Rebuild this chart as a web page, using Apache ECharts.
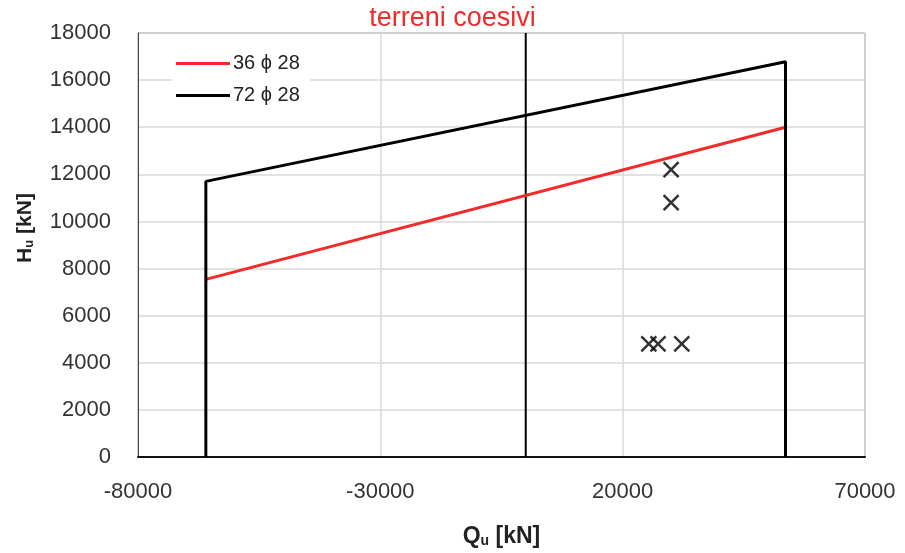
<!DOCTYPE html>
<html>
<head>
<meta charset="utf-8">
<script src="https://cdn.jsdelivr.net/npm/echarts@6/dist/echarts.min.js"></script>
<style>html,body{margin:0;padding:0;background:#fff}#c{width:905px;height:553px}</style>
</head>
<body>
<div id="c"></div>
<script>
// ---- data ----
const titleText = 'terreni coesivi';
const seriesNames = ['36 \u03D5 28', '72 \u03D5 28'];
const redQ = [-66000, 53600];
const redH = [7540, 14000];
const blackQ = [-66000, -66000, 53600, 53600];
const blackH = [0, 11700, 16780, 0];
const zeroQ = [0, 0];
const zeroH = [0, 18000];
const pointsQ = [30000, 30000, 25400, 27300, 32200];
const pointsH = [12200, 10800, 4800, 4800, 4800];
const xTicks = [-80000, 70000, 50000]; // min, max, interval
const yTicks = [0, 18000, 2000];

const zip = (a, b) => a.map((v, i) => [v, b[i]]);
const FONT = 'Liberation Sans';
const plain = v => String(v);

const chart = echarts.init(document.getElementById('c'), null, {renderer: 'canvas'});
chart.setOption({
  animation: false,
  backgroundColor: '#fff',
  textStyle: {fontFamily: FONT},
  title: {
    text: titleText, left: 'center', top: 0,
    textStyle: {color: '#f22a2a', fontSize: 27, fontWeight: 'normal', fontFamily: FONT}
  },
  legend: {
    orient: 'vertical', left: 172, top: 48,
    data: seriesNames, icon: 'rect',
    itemWidth: 54, itemHeight: 3, itemGap: 9,
    backgroundColor: '#fff', padding: [4, 10, 4, 4],
    textStyle: {fontSize: 20, color: '#222', fontFamily: FONT, padding: [0, 0, 0, -2], lineHeight: 23}
  },
  grid: {left: 138, right: 40, top: 33, bottom: 95, show: true, borderColor: '#666', borderWidth: 1},
  xAxis: {
    type: 'value', min: xTicks[0], max: xTicks[1], interval: xTicks[2],
    axisLine: {show: true, onZero: false, lineStyle: {color: '#111', width: 2}},
    axisTick: {show: false},
    splitLine: {show: true, lineStyle: {color: '#d9d9d9', width: 1.5}},
    axisLabel: {fontSize: 22, color: '#333', margin: 24, fontFamily: FONT, formatter: plain},
    name: '{b|Q}{s|u}{b| [kN]}', nameLocation: 'middle', nameGap: 68,
    nameTextStyle: {rich: {
      b: {fontSize: 23, fontWeight: 'bold', color: '#222', fontFamily: FONT},
      s: {fontSize: 14, fontWeight: 'bold', color: '#222', fontFamily: FONT, verticalAlign: 'bottom', padding: [8, 0, 0, 0]}
    }}
  },
  yAxis: {
    type: 'value', min: yTicks[0], max: yTicks[1], interval: yTicks[2],
    axisLine: {show: true, onZero: false, lineStyle: {color: '#444', width: 1}},
    axisTick: {show: false},
    splitLine: {show: true, lineStyle: {color: '#d9d9d9', width: 1.5}},
    axisLabel: {fontSize: 22, color: '#333', margin: 27, fontFamily: FONT, formatter: plain},
    name: '{b|H}{s|u}{b| [kN]}', nameLocation: 'middle', nameGap: 102,
    nameTextStyle: {padding: [0, 0, 0, 34], rich: {
      b: {fontSize: 21, fontWeight: 'bold', color: '#222', fontFamily: FONT},
      s: {fontSize: 13, fontWeight: 'bold', color: '#222', fontFamily: FONT, verticalAlign: 'bottom', padding: [8, 0, 0, 0]}
    }}
  },
  series: [
    {
      name: seriesNames[0], type: 'line', data: zip(redQ, redH),
      symbol: 'none', lineStyle: {color: '#f22a2a', width: 3}, itemStyle: {color: '#f22a2a'}, z: 3
    },
    {
      name: seriesNames[1], type: 'line', data: zip(blackQ, blackH),
      symbol: 'none', lineStyle: {color: '#000', width: 3}, itemStyle: {color: '#000'}, z: 3
    },
    {
      name: 'zero', type: 'line', data: zip(zeroQ, zeroH),
      symbol: 'none', lineStyle: {color: '#000', width: 2}, z: 2
    },
    {
      name: 'punti', type: 'scatter', data: zip(pointsQ, pointsH),
      symbol: 'path://M0,0L10,10M10,0L0,10', symbolSize: 15,
      itemStyle: {color: 'rgba(0,0,0,0)', borderColor: '#000', borderWidth: 2.5}, z: 4
    }
  ]
});
</script>
</body>
</html>
